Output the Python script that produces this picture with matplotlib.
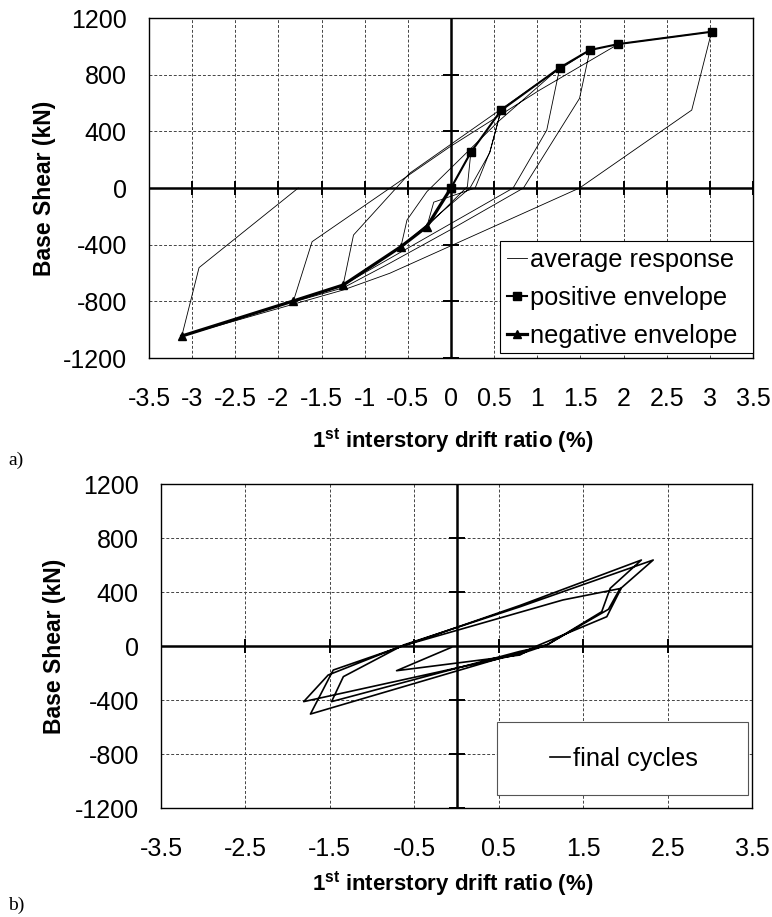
import numpy as np
import matplotlib
matplotlib.use('Agg')
import matplotlib.pyplot as plt
from matplotlib.patches import Rectangle

plt.rcParams['font.family'] = ['Liberation Sans', 'DejaVu Sans']
plt.rcParams['mathtext.fontset'] = 'custom'
plt.rcParams['mathtext.rm'] = 'Liberation Sans'
plt.rcParams['mathtext.bf'] = 'Liberation Sans:bold'

# ---- data ----
# a) average response (thin), drift % / base shear kN
avg_x = [0, 0.23, 0.19, -0.28, -0.20, 0.28, 0.45, 0.58,
         0.45, 0.22, -0.58,
         -0.51, -0.28, 0.55, 1.26,
         1.11, 0.72, -1.25,
         -1.13, -0.48, 1.03, 1.61,
         1.49, 0.84, -0.01, -0.71, -1.25, -1.83,
         -1.61, -0.01, 1.03, 1.94, 3.02,
         2.79, 1.49, -0.71, -1.25, -3.12,
         -2.92, -1.77]
avg_y = [0, 252, 10, -273, -100, 0, 256, 548,
         250, 0, -414,
         -226, -26, 470, 849,
         409, 0, -685,
         -332, 104, 749, 974,
         633, 0, -296, -531, -705, -805,
         -379, 292, 692, 1016, 1103,
         550, 0, -602, -720, -1045,
         -562, 0]

pos_x = [0, 0.23, 0.58, 1.26, 1.61, 1.94, 3.02]
pos_y = [0, 252, 548, 849, 974, 1016, 1103]
neg_x = [0, -0.28, -0.58, -1.25, -1.83, -3.12]
neg_y = [0, -273, -414, -685, -798, -1045]

# b) final cycles
fin_x = [-0.06, -0.71, 0.75, 0.93, 1.78, 1.95, 1.26, -0.67, -1.52, -1.81,
         0.75, 1.07, 1.72, 1.82, 2.19, 0.75, -1.46, -1.73,
         0.90, 1.08, 1.80, 1.93, 2.33, 0.75, -0.63, -1.34, -1.48,
         0.75, 1.05]
fin_y = [-10, -183, -67, -5, 217, 427, 341, -5, -215, -412,
         -60, 7, 254, 427, 637, 300, -178, -504,
         -20, 12, 272, 418, 637, 290, 7, -227, -412,
         -40, 0]

xt_a = [-3.5, -3, -2.5, -2, -1.5, -1, -0.5, 0, 0.5, 1, 1.5, 2, 2.5, 3, 3.5]
xt_b = [-3.5, -2.5, -1.5, -0.5, 0.5, 1.5, 2.5, 3.5]
yt = [-1200, -800, -400, 0, 400, 800, 1200]

W, H = 772, 917
fig = plt.figure(figsize=(W / 100, H / 100), dpi=100)


def box(l, t, r, b):
    return [l / W, 1 - b / H, (r - l) / W, (b - t) / H]


def fpt(px, py):
    return (px / W, 1 - py / H)


def style(ax, xticks, xmarks, ymarks):
    ax.set_xlim(-3.5, 3.5)
    ax.set_ylim(-1200, 1200)
    ax.set_xticks(xticks)
    ax.set_xticklabels(['%g' % v for v in xticks])
    ax.set_yticks(yt)
    ax.set_yticklabels(['%d' % v for v in yt])
    ax.tick_params(length=0, labelsize=18)
    ax.tick_params(axis='x', pad=21)
    ax.tick_params(axis='y', pad=16)
    ax.grid(True, ls=(0, (3, 2)), color='#444444', lw=0.7)
    ax.set_axisbelow(True)
    for s in ax.spines.values():
        s.set_linewidth(1.0)
    ax.axhline(0, color='k', lw=1.8, zorder=1.5)
    ax.axvline(0, color='k', lw=1.8, zorder=1.5)
    ax.plot(xmarks, np.zeros(len(xmarks)), ls='none', marker='|', ms=10,
            mew=1.4, color='k', zorder=1.5)
    ax.plot(np.zeros(len(ymarks)), ymarks, ls='none', marker='_', ms=11,
            mew=1.4, color='k', zorder=1.5)


# ---- a) ----
ax1 = fig.add_axes(box(149, 18, 753, 358))
style(ax1, xt_a, [v for v in xt_a if v != 0], [v for v in yt if v != 0])
l1, = ax1.plot(avg_x, avg_y, color='k', lw=0.6, label='average response')
l2, = ax1.plot(pos_x, pos_y, color='k', lw=1.5, marker='s', ms=5.5,
               label='positive envelope')
l3, = ax1.plot(neg_x, neg_y, color='k', lw=2.3, marker='^', ms=5.5,
               label='negative envelope')

ax1.add_patch(Rectangle(fpt(500, 353), 253 / W, 112 / H, transform=fig.transFigure,
                        facecolor='white', edgecolor='k', lw=0.8, zorder=5,
                        clip_on=False))
leg = ax1.legend(handles=[l1, l2, l3], loc='upper left',
                 bbox_to_anchor=fpt(507, 248), bbox_transform=fig.transFigure,
                 frameon=False, borderpad=0, handlelength=0.8, handletextpad=0.1,
                 labelspacing=0.55, fontsize=18.3, borderaxespad=0)
leg.set_zorder(6)

fig.text(*fpt(45, 188), 'Base Shear (kN)', rotation=90, ha='center', va='center',
         fontsize=16.5, fontweight='bold')
fig.text(*fpt(453, 441), r'1$^{\bf st}$ interstory drift ratio (%)', ha='center',
         va='center', fontsize=16, fontweight='bold')
fig.text(*fpt(8, 460), 'a)', family='Liberation Serif', fontsize=14, va='center')

# ---- b) ----
ax2 = fig.add_axes(box(161, 484, 752, 808))
style(ax2, xt_b, [v for v in xt_b if abs(v) < 3], [v for v in yt if v != 0])
l4, = ax2.plot(fin_x, fin_y, color='k', lw=1.2, label='final cycles')

ax2.add_patch(Rectangle(fpt(497, 795), 251 / W, 73 / H, transform=fig.transFigure,
                        facecolor='white', edgecolor='#555555', lw=0.8, zorder=5,
                        clip_on=False))
leg2 = ax2.legend(handles=[l4], loc='center', bbox_to_anchor=fpt(624, 759),
                  bbox_transform=fig.transFigure, frameon=False, borderpad=0,
                  handlelength=0.8, handletextpad=0.1, fontsize=18.3,
                  borderaxespad=0)
leg2.set_zorder(6)

fig.text(*fpt(54, 646), 'Base Shear (kN)', rotation=90, ha='center', va='center',
         fontsize=16.5, fontweight='bold')
fig.text(*fpt(453, 884), r'1$^{\bf st}$ interstory drift ratio (%)', ha='center',
         va='center', fontsize=16, fontweight='bold')
fig.text(*fpt(8, 905), 'b)', family='Liberation Serif', fontsize=14, va='center')

fig.savefig('out.png', dpi=100)
